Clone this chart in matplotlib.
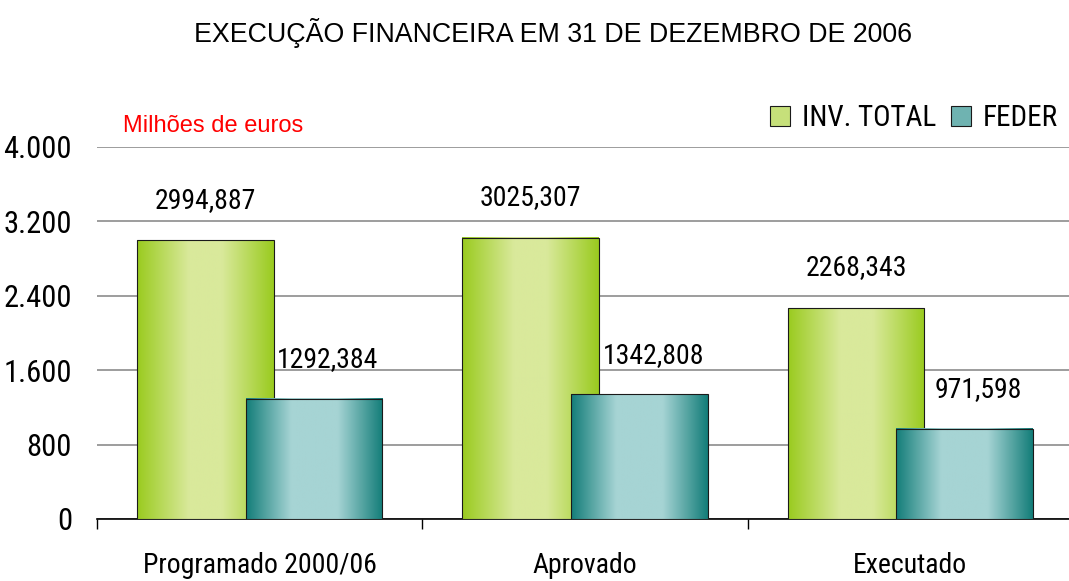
import matplotlib
matplotlib.use("Agg")
import matplotlib.pyplot as plt
import numpy as np
from matplotlib import font_manager
from matplotlib.colors import LinearSegmentedColormap
from matplotlib.patches import Patch

categories = ["Programado 2000/06", "Aprovado", "Executado"]
inv_total = [2994.887, 3025.307, 2268.343]
feder = [1292.384, 1342.808, 971.598]
y_ticks = [0, 800, 1600, 2400, 3200, 4000]
y_tick_labels = ["0", "800", "1.600", "2.400", "3.200", "4.000"]
series_names = ["INV. TOTAL", "FEDER"]

# pick a narrow font if there is one
installed = {f.name for f in font_manager.fontManager.ttflist}
narrow = "Liberation Sans"
for name in ["Liberation Sans Narrow", "DejaVu Sans Condensed", "Roboto Condensed"]:
    if name in installed:
        narrow = name
        break
plt.rcParams["font.family"] = "Liberation Sans"

green_cmap = LinearSegmentedColormap.from_list(
    "g", [(0, "#9acb1f"), (0.38, "#d9e99b"), (0.62, "#d9e99b"), (1, "#9acb1f")])
teal_cmap = LinearSegmentedColormap.from_list(
    "t", [(0, "#137d79"), (0.33, "#a6d4d4"), (0.67, "#a6d4d4"), (1, "#137d79")])

fig = plt.figure(figsize=(10.69, 5.81), dpi=100)
ax = fig.add_axes([97 / 1069, 62 / 581, 976 / 1069, 372 / 581])

x = np.arange(len(categories))
width = 0.42
offset = 0.167
grad = np.linspace(0, 1, 256).reshape(1, -1)


def gradient_bars(xs, vals, cmap, z):
    for xc, v in zip(xs, vals):
        ax.imshow(grad, cmap=cmap, aspect="auto", zorder=z,
                  extent=[xc - width / 2, xc + width / 2, 0, v])
        ax.bar(xc, v, width, fill=False, edgecolor="#1a1a1a", linewidth=0.8, zorder=z + 0.1)


gradient_bars(x - offset, inv_total, green_cmap, 3)
gradient_bars(x + offset, feder, teal_cmap, 4)

for xc, v in zip(x - offset, inv_total):
    ax.annotate(f"{v:.3f}".replace(".", ","), (xc, v), xytext=(0, 29),
                textcoords="offset points", ha="center", va="center",
                fontsize=20, family=narrow, zorder=6)
for xc, v in zip(x + offset, feder):
    ax.annotate(f"{v:.3f}".replace(".", ","), (xc, v), xytext=(10, 28),
                textcoords="offset points", ha="center", va="center",
                fontsize=20, family=narrow, zorder=6)

ax.set_xlim(-0.5, 2.5)
ax.set_ylim(0, 4000)
ax.set_yticks(y_ticks)
ax.set_yticklabels(y_tick_labels, fontsize=22, family=narrow)
ax.yaxis.grid(True, color="#8c8c8c", linewidth=1.2)
ax.set_axisbelow(True)
ax.tick_params(axis="y", length=0, pad=18)

ax.set_xticks(x)
ax.set_xticklabels(categories, fontsize=20, family=narrow)
ax.set_xticks([-0.5, 0.5, 1.5], minor=True)
ax.tick_params(axis="x", which="major", length=0, pad=24)
ax.tick_params(axis="x", which="minor", length=7, width=1, color="black")

for s in ["top", "right", "left"]:
    ax.spines[s].set_visible(False)
ax.spines["bottom"].set_color("black")
ax.spines["bottom"].set_linewidth(1.2)

fig.text(553 / 1069, 1 - 33 / 581, "EXECUÇÃO FINANCEIRA EM 31 DE DEZEMBRO DE 2006",
         ha="center", va="center", fontsize=19.3)
fig.text(123 / 1069, 1 - 126 / 581, "Milhões de euros", color="red",
         ha="left", va="center", fontsize=17)

handles = [Patch(facecolor="#c6e07a", edgecolor="#1a1a1a", linewidth=0.8),
           Patch(facecolor="#6fb3b1", edgecolor="#1a1a1a", linewidth=0.8)]
fig.legend(handles, series_names, loc="center left", ncol=2, frameon=False,
           bbox_to_anchor=(770 / 1069, 1 - 118 / 581), handlelength=0.7,
           handleheight=0.7, handletextpad=0.4, columnspacing=0.5,
           borderpad=0, borderaxespad=0, prop={"family": narrow, "size": 21})

fig.savefig("out.png", dpi=100)
